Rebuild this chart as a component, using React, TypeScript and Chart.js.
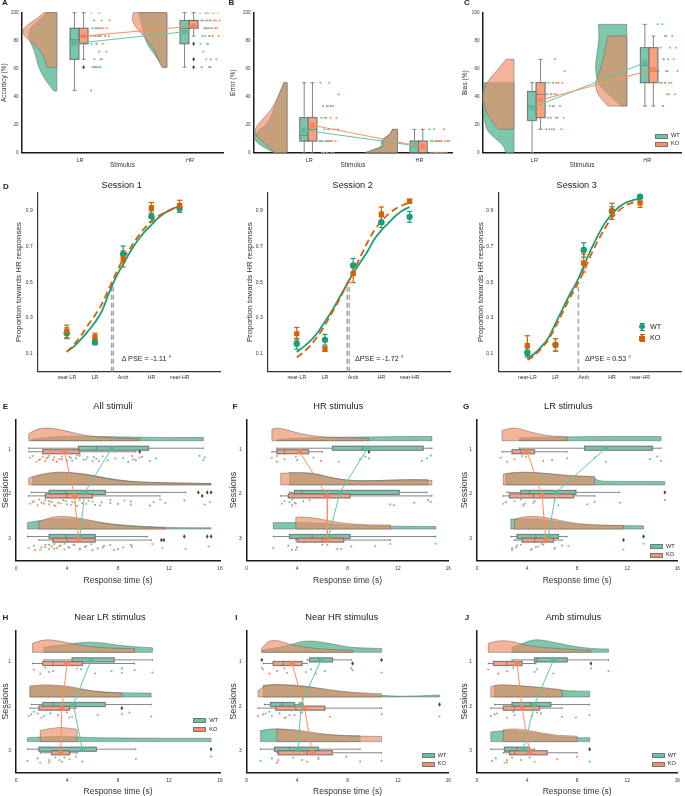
import React, { useEffect, useRef } from "react";
import { Chart, registerables } from "chart.js";

Chart.register(...registerables);
const FONT = "'Liberation Sans', Arial, Helvetica, sans-serif";
Chart.defaults.font.family = FONT;
Chart.defaults.color = "#222";

// ---------- colours ----------
const WT = "rgb(102,194,165)";
const KO = "rgb(252,141,98)";
const WT_V = "rgba(118,196,166,0.95)";
const KO_V = "rgba(236,140,100,0.65)";
const WT_BOX = "rgba(102,194,165,0.9)";
const KO_BOX = "rgba(250,145,105,0.85)";
const D_WT = "#1b9e77";
const D_KO = "#d95f02";

// ---------- Panels A-C data ----------
const stimuli = ["LR", "HR"];
const stimPos = [0, 1];

// A – accuracy (%) ; box = [whiskerLow, q1, median, q3, whiskerHigh]
const accBoxWT = [[44.4, 66.7, 80.6, 88.9, 100], [61.1, 77.8, 88.9, 94.4, 100]];
const accBoxKO = [[66.7, 77.8, 83.3, 88.9, 100], [83.3, 88.9, 94.4, 94.4, 100]];
const accMeanWT = [78.0, 86.4];
const accMeanKO = [83.3, 90.4];
const accOutWT = [[], []];
const accOutKO = [[61.1], [77.8, 66.7, 61.1]];
const accDotsWT = [
  [100, 100, 94.4, 94.4, 88.9, 88.9, 88.9, 88.9, 83.3, 83.3, 83.3, 83.3, 77.8, 77.8, 72.2, 66.7, 66.7, 61.1, 61.1, 61.1, 61.1, 44.4],
  [100, 100, 100, 94.4, 94.4, 94.4, 94.4, 88.9, 88.9, 88.9, 88.9, 83.3, 83.3, 83.3, 77.8, 77.8, 72.2, 66.7, 66.7, 61.1, 61.1],
];
const accDotsKO = [
  [100, 94.4, 88.9, 88.9, 88.9, 88.9, 83.3, 83.3, 83.3, 83.3, 77.8, 77.8, 72.2, 66.7, 61.1],
  [100, 100, 100, 100, 100, 94.4, 94.4, 94.4, 94.4, 94.4, 88.9, 88.9, 88.9, 88.9, 83.3, 83.3, 83.3, 77.8, 66.7, 61.1],
];
const accViolinWT = [
  [[44, 0.08], [47, 0.18], [51, 0.3], [55, 0.4], [59, 0.48], [63, 0.54], [67, 0.58], [71, 0.62], [75, 0.68], [79, 0.75], [83, 0.8], [87, 0.8], [91, 0.68], [95, 0.48], [100, 0.3]],
  [[61, 0.12], [65, 0.22], [70, 0.34], [75, 0.5], [80, 0.6], [85, 0.66], [90, 0.7], [95, 0.75], [100, 0.8]],
];
const accViolinKO = [
  [[61, 0.29], [64, 0.31], [68, 0.36], [72, 0.45], [76, 0.58], [80, 0.78], [84, 0.95], [88, 0.98], [92, 0.8], [96, 0.55], [100, 0.38]],
  [[61, 0.14], [65, 0.22], [70, 0.3], [75, 0.4], [80, 0.55], [85, 0.72], [90, 0.9], [95, 1.0], [100, 0.95]],
];

// B – error (%)
const errBoxWT = [[0, 8.3, 12.5, 25, 50], [0, 0, 0, 8.3, 16.7]];
const errBoxKO = [[0, 8.3, 16.7, 25, 50], [0, 0, 0, 8.3, 16.7]];
const errMeanWT = [16.1, 5.1];
const errMeanKO = [19.6, 4.2];
const errOutWT = [[], []];
const errOutKO = [[], []];
const errDotsWT = [
  [50, 33.3, 33.3, 33.3, 25, 25, 16.7, 16.7, 8.3, 8.3, 8.3, 8.3, 8.3, 8.3, 8.3, 0, 0, 0, 0],
  [16.7, 16.7, 8.3, 8.3, 8.3, 8.3, 8.3, 0, 0, 0, 0, 0, 0, 0, 0],
];
const errDotsKO = [
  [50, 41.7, 33.3, 33.3, 25, 25, 25, 16.7, 16.7, 16.7, 8.3, 8.3, 8.3, 8.3, 0, 0, 0],
  [16.7, 8.3, 8.3, 8.3, 8.3, 8.3, 8.3, 8.3, 0, 0, 0, 0, 0, 0],
];
const errViolinWT = [
  [[0, 0.4], [3, 0.62], [6, 0.85], [9, 0.97], [12, 1.0], [15, 0.9], [18, 0.75], [21, 0.6], [25, 0.5], [30, 0.42], [35, 0.35], [40, 0.27], [45, 0.18], [50, 0.1]],
  [[0, 0.95], [2, 0.75], [4, 0.52], [6, 0.47], [8, 0.5], [10, 0.42], [12, 0.3], [14, 0.2], [16.7, 0.15]],
];
const errViolinKO = [
  [[0, 0.38], [3, 0.5], [6, 0.65], [9, 0.8], [12, 0.92], [15, 0.97], [18, 0.95], [21, 0.85], [25, 0.7], [30, 0.5], [35, 0.38], [40, 0.28], [45, 0.18], [50, 0.1]],
  [[0, 1.0], [2, 0.72], [4, 0.42], [6, 0.4], [8, 0.48], [10, 0.42], [12, 0.3], [14, 0.2], [16.7, 0.15]],
];

// C – bias (%)
const biasBoxWT = [[0, 23, 33.3, 43.7, 50], [33.3, 50, 62.5, 75, 91.7]];
const biasBoxKO = [[16.7, 25, 41.7, 50, 66.7], [33.3, 50, 58.3, 75, 83.3]];
const biasMeanWT = [32.1, 64.3];
const biasMeanKO = [37.6, 59.5];
const biasOutWT = [[], []];
const biasOutKO = [[], []];
const biasDotsWT = [
  [50, 50, 50, 50, 41.7, 41.7, 41.7, 33.3, 33.3, 33.3, 25, 25, 25, 16.7, 16.7, 16.7],
  [91.7, 91.7, 83.3, 75, 66.7, 66.7, 58.3, 58.3, 50, 50, 50, 50, 41.7, 33.3],
];
const biasDotsKO = [
  [66.7, 58.3, 50, 50, 50, 41.7, 41.7, 33.3, 33.3, 25, 25, 16.7, 16.7],
  [83.3, 83.3, 75, 75, 66.7, 66.7, 58.3, 58.3, 50, 50, 41.7, 41.7, 33.3],
];
const biasViolinWT = [
  [[0, 0.26], [4, 0.3], [8, 0.47], [12, 0.7], [16.7, 0.88], [25, 0.95], [33, 0.98], [42, 1.0], [50, 0.95]],
  [[33.3, 0.18], [37, 0.35], [41, 0.55], [45, 0.75], [50, 0.9], [55, 0.97], [62, 1.0], [70, 0.95], [78, 0.9], [85, 0.88], [91.7, 0.9]],
];
const biasViolinKO = [
  [[16.7, 0.5], [25, 0.8], [33, 0.95], [42, 1.0], [50, 0.88], [58, 0.57], [66.7, 0.25]],
  [[33.3, 0.6], [37, 0.75], [41, 0.9], [45, 0.97], [50, 1.0], [55, 0.92], [62, 0.8], [70, 0.72], [78, 0.65], [83.3, 0.6]],
];

// ---------- Panel D data ----------
const dLevels = ["near-LR", "LR", "Amb", "HR", "near-HR"];
const dPos = [0, 1, 2, 3, 4];
const curveX = [0, 0.25, 0.5, 0.75, 1, 1.25, 1.5, 1.75, 2, 2.25, 2.5, 2.75, 3, 3.25, 3.5, 3.75, 4];
const s1CurveWT = [0.113, 0.14, 0.18, 0.225, 0.275, 0.34, 0.44, 0.53, 0.6, 0.67, 0.73, 0.78, 0.82, 0.86, 0.89, 0.91, 0.925];
const s1CurveKO = [0.11, 0.15, 0.2, 0.26, 0.315, 0.38, 0.465, 0.55, 0.63, 0.69, 0.75, 0.8, 0.84, 0.87, 0.89, 0.91, 0.925];
const s2CurveWT = [0.11, 0.14, 0.175, 0.22, 0.28, 0.34, 0.41, 0.48, 0.55, 0.61, 0.67, 0.74, 0.79, 0.83, 0.87, 0.9, 0.92];
const s2CurveKO = [0.08, 0.11, 0.15, 0.2, 0.26, 0.33, 0.4, 0.48, 0.56, 0.64, 0.72, 0.79, 0.84, 0.88, 0.91, 0.93, 0.945];
const s3CurveWT = [0.075, 0.1, 0.14, 0.19, 0.27, 0.35, 0.43, 0.5, 0.59, 0.68, 0.76, 0.83, 0.88, 0.92, 0.945, 0.958, 0.967];
const s3CurveKO = [0.065, 0.09, 0.13, 0.18, 0.25, 0.33, 0.41, 0.48, 0.56, 0.65, 0.73, 0.8, 0.86, 0.9, 0.93, 0.945, 0.952];
const s1WT = [0.215, 0.165, 0.657, 0.868, 0.915];
const s1WTErr = [0.03, 0.015, 0.045, 0.03, 0.025];
const s1KO = [0.225, 0.195, 0.63, 0.915, 0.928];
const s1KOErr = [0.035, 0.02, 0.045, 0.03, 0.03];
const s2WT = [0.156, 0.178, 0.593, 0.835, 0.865];
const s2WTErr = [0.03, 0.03, 0.04, 0.03, 0.03];
const s2KO = [0.212, 0.126, 0.548, 0.88, 0.952];
const s2KOErr = [0.035, 0.012, 0.05, 0.04, 0.012];
const s3WT = [0.107, 0.15, 0.68, 0.896, 0.977];
const s3WTErr = [0.025, 0.035, 0.04, 0.025, 0.01];
const s3KO = [0.146, 0.15, 0.607, 0.896, 0.943];
const s3KOErr = [0.055, 0.035, 0.05, 0.045, 0.025];
const s1PSE = [1.59, 1.65];
const s2PSE = [1.79, 1.865];
const s3PSE = [1.81];

// ---------- Panels E-J data (response time, s) ----------
const sessions = [1, 2, 3];

const E_WT_violin = [
  [[1.2, 0.1], [2, 0.2], [3, 0.3], [4, 0.35], [5, 0.36], [6, 0.34], [8, 0.3], [10, 0.27], [12, 0.25], [14, 0.25], [14.7, 0.25]],
  [[1.3, 0.6], [2, 0.8], [3, 0.95], [4, 0.97], [5, 0.9], [6, 0.75], [7, 0.55], [8, 0.4], [9, 0.28], [10, 0.22], [12, 0.16], [14, 0.12], [15.3, 0.1]],
  [[0.9, 0.5], [1.5, 0.6], [2, 0.7], [3, 0.8], [4, 0.82], [5, 0.75], [6, 0.6], [7, 0.45], [8, 0.35], [10, 0.2], [12, 0.12], [14, 0.1], [15.3, 0.1]],
];
const E_KO_violin = [
  [[1, 0.55], [1.5, 0.85], [2, 0.97], [2.5, 1.0], [3, 0.95], [4, 0.75], [5, 0.5], [6, 0.33], [7, 0.25], [8, 0.2], [9, 0.17], [9.7, 0.15]],
  [[1, 0.55], [2, 0.85], [3, 0.98], [3.5, 1.0], [4, 0.98], [5, 0.88], [6, 0.7], [7, 0.5], [8, 0.35], [9, 0.25], [10, 0.2], [12, 0.15], [14, 0.12], [15.3, 0.1]],
  [[1.8, 0.55], [2.5, 0.85], [3, 0.95], [3.5, 1.0], [4, 0.98], [5, 0.85], [6, 0.65], [7, 0.45], [8, 0.3], [9, 0.2], [10, 0.15], [11.7, 0.12]],
];
const E_WT_box = [[1.0, 4.9, 6.3, 10.4, 14.7], [1.2, 2.6, 3.9, 7.0, 13.3], [0.9, 2.6, 3.9, 6.2, 10.3]];
const E_KO_box = [[1.0, 2.1, 3.8, 5.0, 9.4], [1.0, 2.3, 4.0, 6.0, 11.3], [1.8, 2.9, 4.0, 6.2, 10.6]];
const E_WT_mean = [7.5, 5.4, 5.0];
const E_KO_mean = [3.8, 4.6, 4.9];
const E_WT_out = [[], [14.3, 15.0, 15.3], [13.2, 15.0, 15.3]];
const E_KO_out = [[9.7], [14.6], [11.4, 11.6]];
const E_WT_dots = [
  [1.3, 1.8, 2.5, 3.2, 3.6, 4.2, 4.4, 4.7, 5.0, 5.3, 5.6, 6.0, 6.3, 6.8, 7.2, 8.4, 8.8, 9.2, 9.9, 10.5, 11.0, 14.4, 14.7, 14.8],
  [1.3, 1.8, 2.2, 2.6, 3.0, 3.3, 3.7, 4.0, 4.4, 4.8, 5.2, 5.7, 6.2, 6.7, 7.4, 8.0, 9.0, 10.5, 11.7, 13.2, 14.8, 15.2],
  [1.0, 1.4, 1.9, 2.3, 2.6, 3.0, 3.4, 3.8, 4.2, 4.6, 5.0, 5.4, 5.9, 6.4, 6.9, 7.7, 8.4, 9.0, 13.3, 15.1],
];
const E_KO_dots = [
  [1.1, 1.6, 1.9, 2.1, 2.3, 2.4, 2.6, 2.9, 3.0, 3.2, 3.4, 3.6, 4.0, 4.3, 4.8, 5.5, 6.1, 6.5, 7.8, 9.1, 9.4, 9.7],
  [1.1, 1.4, 1.7, 2.0, 2.3, 2.6, 2.8, 3.1, 3.5, 3.9, 4.3, 4.6, 5.0, 5.5, 6.0, 6.6, 7.4, 8.5, 9.0, 10.8, 11.3],
  [1.5, 2.0, 2.3, 2.6, 2.8, 3.0, 3.2, 3.5, 3.8, 4.1, 4.5, 5.0, 5.5, 6.0, 6.8, 7.4, 8.0, 9.1, 10.7, 11.5],
];

const F_WT_violin = [
  [[2.4, 0.1], [4, 0.2], [6, 0.25], [8, 0.28], [10, 0.3], [12, 0.32], [14, 0.33], [14.7, 0.33]],
  [[3.4, 0.95], [4.5, 0.95], [5.5, 0.88], [6.5, 0.6], [7.5, 0.42], [8.5, 0.32], [10, 0.32], [12, 0.4], [13.5, 0.42], [14.4, 0.4]],
  [[2.1, 0.5], [3, 0.5], [3.9, 0.52], [5, 0.5], [6, 0.45], [7, 0.38], [8, 0.3], [10, 0.25], [12, 0.22], [14, 0.2], [15, 0.2]],
];
const F_KO_violin = [
  [[2, 0.9], [2.3, 1.0], [2.8, 0.95], [3.5, 0.75], [4.5, 0.5], [5.5, 0.35], [6.5, 0.28], [8, 0.22], [9.7, 0.2]],
  [[2.7, 0.9], [3.5, 0.95], [4.5, 0.95], [5.5, 0.85], [6.5, 0.6], [7.5, 0.42], [8.5, 0.32], [10, 0.32], [12, 0.38], [13.5, 0.38], [14.7, 0.35]],
  [[3.9, 0.93], [4.5, 0.95], [5.5, 0.85], [6.5, 0.65], [7.5, 0.48], [8.5, 0.38], [9.5, 0.33], [10.5, 0.32], [11.4, 0.32]],
];
const F_WT_box = [[2.4, 6.8, 9.2, 14.0, 14.7], [3.4, 3.8, 4.4, 12.1, 14.3], [2.1, 3.4, 5.2, 8.2, 15.0]];
const F_KO_box = [[2.0, 2.4, 3.0, 4.9, 6.0], [2.7, 3.3, 6.2, 8.2, 14.7], [3.9, 4.0, 6.0, 7.7, 11.4]];
const F_WT_mean = [9.6, 7.4, 6.5];
const F_KO_mean = [4.2, 6.4, 6.4];
const F_WT_out = [[], [], []];
const F_KO_out = [[9.7], [], []];
const F_WT_dots = [[2.4, 4.0, 5.3, 7.3, 9.0, 9.4, 13.9, 14.3, 14.6], [3.4, 3.6, 3.9, 4.5, 11.7, 13.3, 14.4], [2.1, 3.3, 3.6, 4.0, 6.4, 7.2, 10.2, 15.0]];
const F_KO_dots = [[2.0, 2.4, 3.0, 3.9, 5.9, 9.7], [2.8, 3.0, 3.6, 3.8, 5.0, 11.4, 14.6], [3.9, 4.0, 6.0, 7.5, 8.3, 11.4]];

const G_WT_violin = [
  [[3.4, 0.22], [5, 0.26], [7, 0.3], [9, 0.32], [11, 0.33], [13, 0.33], [14.7, 0.33]],
  [[2.3, 0.85], [2.8, 0.93], [3.5, 0.98], [4.5, 0.96], [5.5, 0.88], [6.5, 0.78], [7.5, 0.7], [8.5, 0.66], [9.4, 0.62], [9.6, 0.3], [11, 0.27], [13, 0.26], [15, 0.26]],
  [[2.7, 0.78], [3.5, 0.8], [4.5, 0.8], [5.5, 0.7], [6.5, 0.55], [7.5, 0.42], [8.5, 0.33], [10, 0.28], [11.7, 0.26], [13.3, 0.26]],
];
const G_KO_violin = [
  [[2, 0.8], [2.5, 0.95], [3, 1.0], [3.5, 0.92], [4, 0.75], [5, 0.5], [6, 0.35], [7.2, 0.3]],
  [[2.1, 0.85], [2.8, 0.95], [3.5, 1.0], [4.5, 0.97], [5.5, 0.9], [6.5, 0.8], [7.5, 0.72], [8.5, 0.68], [9.4, 0.65]],
  [[3.0, 0.75], [3.5, 0.95], [4.5, 1.0], [5.5, 0.9], [6.5, 0.7], [7.5, 0.5], [8.5, 0.38], [10, 0.3], [11.7, 0.28]],
];
const G_WT_box = [[3.4, 8.6, 10.3, 14.0, 14.7], [2.4, 3.5, 4.2, 7.9, 11.4], [2.7, 3.2, 4.7, 6.5, 7.2]];
const G_KO_box = [[2.0, 2.8, 3.5, 4.6, 7.2], [2.1, 2.6, 4.5, 7.7, 9.4], [3.0, 3.6, 4.6, 6.1, 6.8]];
const G_WT_mean = [10.3, 6.3, 5.7];
const G_KO_mean = [4.0, 5.2, 5.5];
const G_WT_out = [[], [15.0], [13.3]];
const G_KO_out = [[], [], [11.7]];
const G_WT_dots = [[3.6, 6.0, 9.4, 10.3, 13.8, 14.4, 14.7], [2.3, 3.5, 3.8, 4.6, 6.5, 11.4, 15.0], [2.8, 3.2, 4.3, 4.7, 5.3, 6.2, 7.3, 13.3]];
const G_KO_dots = [[1.9, 2.4, 3.0, 3.9, 5.3, 7.2], [2.1, 3.0, 3.7, 4.5, 6.2, 8.8, 9.4], [2.8, 3.1, 3.5, 4.4, 4.9, 5.2, 6.2, 6.8, 11.7]];

const H_WT_violin = [
  [[2.2, 0.4], [3, 0.5], [4, 0.6], [5, 0.75], [6, 0.8], [7, 0.7], [8, 0.55], [9, 0.45], [10.7, 0.35]],
  [[1.1, 0.8], [2, 0.85], [3, 0.85], [4, 0.75], [5, 0.6], [6, 0.45], [7, 0.38], [8.3, 0.32], [10.6, 0.3]],
  [[0.9, 0.3], [1.9, 0.36], [2.8, 0.4], [3.8, 0.4], [4.8, 0.36], [6, 0.3], [8, 0.28], [10, 0.27], [12, 0.26], [15.3, 0.26]],
];
const H_KO_violin = [
  [[1.3, 0.7], [2, 0.98], [3, 0.95], [4, 0.75], [5, 0.55], [6, 0.42], [7, 0.35], [8, 0.3], [9.3, 0.28]],
  [[1.1, 0.85], [2, 0.95], [3, 0.92], [4, 0.85], [5, 0.65], [6, 0.45], [7, 0.35], [8.3, 0.3]],
  [[1.9, 0.85], [2.5, 0.98], [3, 1.05], [3.5, 1.1], [4, 1.05], [4.8, 0.95]],
];
const H_WT_box = [[2.2, 4.4, 6.0, 7.7, 10.7], [1.2, 2.1, 2.9, 7.0, 10.6], [0.9, 1.8, 3.5, 6.3, 9.4]];
const H_KO_box = [[1.3, 2.1, 2.9, 5.2, 9.3], [1.1, 1.8, 3.5, 4.2, 4.7], [1.9, 2.8, 3.5, 4.2, 4.8]];
const H_WT_mean = [5.9, 4.5, 5.2];
const H_KO_mean = [4.0, 3.6, 3.5];
const H_WT_out = [[], [], [15.3]];
const H_KO_out = [[], [8.3], []];
const H_WT_dots = [[2.3, 2.6, 5.1, 6.2, 7.5, 8.3, 10.7], [1.2, 1.4, 2.2, 2.7, 4.2, 6.4, 8.9, 10.6], [0.9, 1.7, 2.6, 3.4, 3.8, 5.2, 9.4, 15.3]];
const H_KO_dots = [[1.4, 1.9, 2.9, 4.8, 8.3, 9.3], [1.0, 1.7, 2.0, 3.3, 4.0, 4.4, 8.3], [1.9, 2.6, 3.1, 3.6, 4.2, 4.7]];

const I_WT_violin = [
  [[1.2, 0.15], [2, 0.3], [3, 0.45], [4, 0.75], [4.5, 0.85], [5, 0.88], [5.5, 0.85], [6.5, 0.7], [7.5, 0.5], [8.5, 0.35], [10.7, 0.3]],
  [[1.3, 0.9], [2, 0.95], [3, 0.95], [4, 0.9], [5, 0.8], [6, 0.6], [7, 0.45], [8, 0.35], [9, 0.25], [10.7, 0.12], [12, 0.05], [13.5, 0.08], [15.3, 0.15]],
  [[1.1, 0.85], [1.6, 0.95], [2.4, 1.0], [3, 0.95], [4, 0.8], [5, 0.65], [6, 0.55], [7, 0.5], [8, 0.45], [9, 0.45]],
];
const I_KO_violin = [
  [[1.2, 0.3], [1.6, 0.8], [2, 0.92], [2.5, 0.9], [3, 0.75], [3.5, 0.6], [4, 0.5], [5, 0.35], [6, 0.25], [7, 0.2], [8.4, 0.15]],
  [[0.9, 0.5], [1.5, 0.9], [2, 0.95], [3, 0.92], [4, 0.85], [5, 0.75], [6, 0.65], [7, 0.5], [8, 0.4], [9, 0.32], [10.7, 0.25]],
  [[2.4, 0.95], [3, 0.97], [4, 0.9], [5, 0.75], [6, 0.6], [7, 0.5], [8, 0.45], [9, 0.42], [10.7, 0.4]],
];
const I_WT_box = [[4.8, 5.0, 5.7, 6.8, 8.3], [1.4, 1.9, 2.8, 3.8, 4.5], [1.1, 2.2, 3.4, 5.7, 9.0]];
const I_KO_box = [[1.3, 2.1, 2.9, 4.4, 4.8], [0.9, 2.3, 3.9, 6.2, 10.7], [2.4, 2.5, 4.8, 6.8, 10.7]];
const I_WT_mean = [5.9, 4.3, 4.1];
const I_KO_mean = [3.6, 4.6, 5.2];
const I_WT_out = [[1.2, 10.7], [15.3], []];
const I_KO_out = [[8.4], [], []];
const I_WT_dots = [[1.2, 4.7, 5.1, 5.5, 6.2, 8.3, 10.7], [1.3, 1.8, 2.0, 2.6, 3.1, 3.4, 4.4, 15.3], [1.1, 2.0, 2.4, 4.4, 5.7, 9.0]];
const I_KO_dots = [[1.3, 1.8, 2.4, 3.0, 3.2, 8.4], [0.9, 1.5, 3.0, 3.8, 4.3, 6.6, 10.7], [2.4, 2.5, 3.7, 4.8, 5.7, 7.9, 10.7]];

const J_WT_violin = [
  [[2.8, 0.4], [3.5, 0.6], [4, 0.85], [4.7, 1.0], [5.5, 0.9], [6.5, 0.7], [7.5, 0.5], [8.5, 0.35], [9.5, 0.28], [10.5, 0.25]],
  [[1.4, 0.85], [2, 0.9], [3, 0.85], [4, 0.8], [5, 0.72], [6, 0.6], [6.8, 0.5], [8, 0.45], [9, 0.45]],
  [[1.1, 0.75], [2.1, 0.85], [3, 0.85], [4, 0.75], [5, 0.6], [6, 0.45], [7, 0.35], [8, 0.3], [9, 0.3]],
];
const J_KO_violin = [
  [[0.9, 0.7], [1.5, 0.85], [2.2, 0.92], [3, 0.8], [3.5, 0.65], [4.5, 0.45], [5.5, 0.35], [6.5, 0.3], [7.5, 0.22], [9.1, 0.15]],
  [[1.1, 0.8], [1.5, 0.92], [2, 0.95], [3, 0.9], [4, 0.82], [5, 0.75], [6, 0.65], [6.8, 0.55]],
  [[2.1, 0.92], [2.7, 1.0], [3.5, 0.95], [4.5, 0.8], [5.5, 0.6], [6.5, 0.48], [8, 0.42]],
];
const J_WT_box = [[2.8, 4.6, 4.8, 7.2, 10.5], [1.4, 2.8, 4.3, 5.9, 9.0], [1.1, 2.2, 3.2, 4.2, 4.6]];
const J_KO_box = [[0.9, 1.3, 2.4, 3.6, 4.7], [1.1, 2.1, 3.0, 5.0, 6.8], [2.1, 2.6, 3.0, 5.6, 8.0]];
const J_WT_mean = [6.1, 4.6, 3.7];
const J_KO_mean = [3.2, 3.6, 4.2];
const J_WT_out = [[], [], [9.0]];
const J_KO_out = [[9.1], [], []];
const J_WT_dots = [[2.9, 4.6, 4.8, 6.1, 10.5], [1.4, 2.9, 4.4, 5.1, 7.9, 9.0], [1.2, 1.5, 2.4, 3.5, 4.2, 9.0]];
const J_KO_dots = [[0.9, 1.7, 2.4, 9.1], [1.1, 1.6, 2.4, 3.0, 4.8, 6.8], [2.2, 2.4, 2.8, 4.6, 6.4, 8.0]];

const rtTicks = [0, 4, 8, 12, 16];

// ---------- helpers ----------
type V = number[][];
interface Grp { violin: V; box: number[]; mean: number; dots: number[]; out: number[]; }
function groups(v: V[], b: number[][], m: number[], d: number[][], o: number[][]): Grp[] {
  return b.map((box, i) => ({ violin: v[i], box, mean: m[i], dots: d[i], out: o[i] }));
}
interface RainSpec {
  orient: "v" | "h"; pos: number[]; wt: Grp[]; ko: Grp[];
  vBase: number; vSize: number; cWT: number; cKO: number; hw: number;
  jWT: number[]; jKO: number[];
}

function mapper(chart: any, orient: string) {
  const xs = chart.scales.x, ys = chart.scales.y;
  return orient === "v"
    ? (c: number, v: number) => [xs.getPixelForValue(c), ys.getPixelForValue(v)]
    : (c: number, v: number) => [xs.getPixelForValue(v), ys.getPixelForValue(c)];
}

function smooth(ctx: CanvasRenderingContext2D, pts: number[][]) {
  ctx.moveTo(pts[0][0], pts[0][1]);
  for (let i = 1; i < pts.length - 1; i++) {
    const mx = (pts[i][0] + pts[i + 1][0]) / 2, my = (pts[i][1] + pts[i + 1][1]) / 2;
    ctx.quadraticCurveTo(pts[i][0], pts[i][1], mx, my);
  }
  ctx.lineTo(pts[pts.length - 1][0], pts[pts.length - 1][1]);
}

function drawViolin(ctx: CanvasRenderingContext2D, P: any, pos: number, s: RainSpec, v: V, fill: string) {
  const pts = v.map(([val, d]) => P(pos + s.vBase - d * s.vSize, val));
  ctx.beginPath();
  smooth(ctx, pts);
  const a = P(pos + s.vBase, v[v.length - 1][0]);
  const b = P(pos + s.vBase, v[0][0]);
  ctx.lineTo(a[0], a[1]);
  ctx.lineTo(b[0], b[1]);
  ctx.closePath();
  ctx.fillStyle = fill;
  ctx.fill();
  ctx.strokeStyle = "rgba(95,95,95,0.6)";
  ctx.lineWidth = 0.8;
  ctx.stroke();
}

function seg(ctx: CanvasRenderingContext2D, a: number[], b: number[]) {
  ctx.beginPath(); ctx.moveTo(a[0], a[1]); ctx.lineTo(b[0], b[1]); ctx.stroke();
}

function drawBox(ctx: CanvasRenderingContext2D, P: any, pos: number, c: number, hw: number, g: Grp, fill: string) {
  const [lo, q1, med, q3, hi] = g.box;
  const cc = pos + c;
  ctx.strokeStyle = "rgba(105,105,105,0.9)";
  ctx.lineWidth = 0.9;
  seg(ctx, P(cc, lo), P(cc, q1));
  seg(ctx, P(cc, q3), P(cc, hi));
  seg(ctx, P(cc - hw * 0.45, lo), P(cc + hw * 0.45, lo));
  seg(ctx, P(cc - hw * 0.45, hi), P(cc + hw * 0.45, hi));
  const a = P(cc - hw, q1), b = P(cc + hw, q3);
  const x = Math.min(a[0], b[0]), y = Math.min(a[1], b[1]);
  const w = Math.abs(a[0] - b[0]), h = Math.abs(a[1] - b[1]);
  ctx.fillStyle = fill;
  ctx.fillRect(x, y, w, h);
  ctx.strokeStyle = "rgba(150,150,150,0.55)";
  ctx.lineWidth = 1.6;
  ctx.strokeRect(x, y, w, h);
  ctx.strokeStyle = "rgba(95,95,95,0.9)";
  ctx.lineWidth = 0.7;
  ctx.strokeRect(x, y, w, h);
  seg(ctx, P(cc - hw, med), P(cc + hw, med));
  ctx.fillStyle = "rgb(70,70,70)";
  g.out.forEach((v) => {
    const p = P(cc, v);
    ctx.beginPath();
    ctx.moveTo(p[0], p[1] - 2.2); ctx.lineTo(p[0] + 1.4, p[1]); ctx.lineTo(p[0], p[1] + 2.2); ctx.lineTo(p[0] - 1.4, p[1]);
    ctx.closePath(); ctx.fill();
  });
}

function rainPlugin(s: RainSpec) {
  return {
    id: "rain",
    beforeDatasetsDraw(chart: any) {
      const ctx = chart.ctx as CanvasRenderingContext2D;
      const P = mapper(chart, s.orient);
      ctx.save();
      s.pos.forEach((p, i) => {
        drawViolin(ctx, P, p, s, s.wt[i].violin, WT_V);
        drawViolin(ctx, P, p, s, s.ko[i].violin, KO_V);
      });
      s.pos.forEach((p, i) => {
        drawBox(ctx, P, p, s.cWT, s.hw, s.wt[i], WT_BOX);
        drawBox(ctx, P, p, s.cKO, s.hw, s.ko[i], KO_BOX);
      });
      ctx.restore();
    },
  };
}

function pt(s: RainSpec, c: number, v: number) {
  return s.orient === "v" ? { x: c, y: v } : { x: v, y: c };
}

function rainDatasets(s: RainSpec) {
  const meanDS = (g: Grp[], c: number, col: string, fill: string) => ({
    data: s.pos.map((p, i) => pt(s, p + c, g[i].mean)),
    showLine: true, borderColor: col, borderWidth: 1, pointRadius: 2.7,
    pointBackgroundColor: fill, pointBorderWidth: 0,
  });
  const dotsDS = (g: Grp[], r: number[], col: string, seed: number) => {
    const data: any[] = [];
    g.forEach((gr, i) => gr.dots.forEach((v, k) => {
      const f = (k * 0.618034 + seed + i * 0.29) % 1;
      data.push(pt(s, s.pos[i] + r[0] + (r[1] - r[0]) * f, v));
    }));
    return { data, showLine: false, pointRadius: 1.05, pointBackgroundColor: col, pointBorderWidth: 0 };
  };
  return [
    meanDS(s.ko, s.cKO, KO, "rgba(245,130,90,0.9)"),
    meanDS(s.wt, s.cWT, WT, "rgba(90,185,150,0.9)"),
    dotsDS(s.ko, s.jKO, KO, 0.37),
    dotsDS(s.wt, s.jWT, WT, 0.11),
  ];
}

function mkScale(p: any) {
  return {
    type: "linear",
    min: p.min, max: p.max, reverse: !!p.reverse,
    afterBuildTicks: (sc: any) => { sc.ticks = p.ticks.map((v: number) => ({ value: v })); },
    afterFit: (sc: any) => { if (p.w !== undefined) sc.width = p.w; if (p.h !== undefined) sc.height = p.h; },
    grid: { display: false, drawTicks: false },
    border: { display: true, color: p.bc || "#1a1a1a", width: p.bw || 1.5 },
    ticks: { font: { size: p.ts }, padding: p.tp, color: "#333", autoSkip: false, maxRotation: 0, callback: p.lab || ((v: number) => String(v)) },
    title: p.title ? { display: true, text: p.title, font: { size: p.tfs }, color: "#333", padding: p.tpad } : { display: false },
  };
}

function baseOptions(scales: any, pad: any) {
  return {
    responsive: false, animation: false, events: [],
    layout: { padding: pad },
    plugins: { legend: { display: false }, tooltip: { enabled: false } },
    scales,
  };
}

function vRain(wt: Grp[], ko: Grp[], g: any) {
  const s: RainSpec = {
    orient: "v", pos: stimPos, wt, ko, vBase: g.vBase, vSize: g.vSize,
    cWT: g.cWT, cKO: g.cKO, hw: 0.04, jWT: [0.09, 0.2], jKO: [0.13, 0.27],
  };
  return () => ({
    type: "scatter",
    data: { datasets: rainDatasets(s) },
    options: baseOptions({
      x: mkScale({ min: g.xmin, max: g.xmax, ticks: stimPos, lab: (v: number) => stimuli[v], ts: 5.5, tp: 4, title: "Stimulus", tfs: 6.5, tpad: { top: 0, bottom: 5.7 }, h: g.xh }),
      y: mkScale({ min: 0, max: 100, ticks: [0, 20, 40, 60, 80, 100], ts: 4.6, tp: 3.5, title: g.yTitle, tfs: 6.5, tpad: { top: g.ytp, bottom: 0 }, w: g.yw }),
    }, { top: 12.7, right: g.pr, bottom: 0, left: 0 }),
    plugins: [rainPlugin(s)],
  });
}

function hRain(wt: Grp[], ko: Grp[], g: any) {
  const s: RainSpec = {
    orient: "h", pos: sessions, wt, ko, vBase: -0.21, vSize: 0.29,
    cWT: -0.04, cKO: 0.04, hw: 0.045, jWT: [0.12, 0.27], jKO: [0.12, 0.27],
  };
  return () => ({
    type: "scatter",
    data: { datasets: rainDatasets(s) },
    options: baseOptions({
      x: mkScale({ min: 0, max: 16, ticks: rtTicks, ts: 4.8, tp: 5, title: "Response time (s)", tfs: 8.5, tpad: { top: 0, bottom: g.xtp }, h: g.xh }),
      y: mkScale({ min: g.ymin, max: g.ymax, reverse: true, ticks: sessions, ts: 4.8, tp: 5, title: "Sessions", tfs: 9, tpad: { top: g.ytp, bottom: 0 }, w: g.yw }),
    }, { top: g.pt, right: g.pr, bottom: 0, left: 0 }),
    plugins: [rainPlugin(s)],
  });
}

function errPlugin(sets: any[]) {
  return {
    id: "err",
    beforeDatasetsDraw(chart: any) {
      const ctx = chart.ctx as CanvasRenderingContext2D;
      const xs = chart.scales.x, ys = chart.scales.y;
      ctx.save();
      sets.forEach((st) => {
        ctx.strokeStyle = st.color;
        ctx.lineWidth = 1.2;
        dPos.forEach((p, i) => {
          const x = xs.getPixelForValue(p);
          const y1 = ys.getPixelForValue(st.y[i] - st.e[i]);
          const y2 = ys.getPixelForValue(st.y[i] + st.e[i]);
          seg(ctx, [x, y1], [x, y2]);
          seg(ctx, [x - 2.6, y1], [x + 2.6, y1]);
          seg(ctx, [x - 2.6, y2], [x + 2.6, y2]);
        });
      });
      ctx.restore();
    },
  };
}

function psycho(cWT: number[], cKO: number[], pWT: number[], eWT: number[], pKO: number[], eKO: number[], pse: number[], g: any) {
  return () => ({
    type: "scatter",
    data: {
      datasets: [
        { data: dPos.map((p, i) => ({ x: p, y: pKO[i] })), pointStyle: "rect", pointRadius: 3.7, pointBackgroundColor: D_KO, pointBorderWidth: 0 },
        { data: dPos.map((p, i) => ({ x: p, y: pWT[i] })), pointStyle: "circle", pointRadius: 3.2, pointBackgroundColor: D_WT, pointBorderWidth: 0 },
        { data: curveX.map((x, i) => ({ x, y: cKO[i] })), showLine: true, borderColor: D_KO, borderWidth: 1.8, borderDash: [7, 4], pointRadius: 0, cubicInterpolationMode: "monotone" },
        { data: curveX.map((x, i) => ({ x, y: cWT[i] })), showLine: true, borderColor: D_WT, borderWidth: 1.8, pointRadius: 0, cubicInterpolationMode: "monotone" },
        ...pse.map((p) => ({ data: [{ x: p, y: 0 }, { x: p, y: 0.5 }], showLine: true, borderColor: "rgba(160,160,160,0.95)", borderWidth: 1.5, borderDash: [5, 3], pointRadius: 0 })),
      ],
    },
    options: baseOptions({
      x: mkScale({ min: -1.03, max: 5.45, ticks: dPos, lab: (v: number) => dLevels[v], ts: 5.2, tp: 3, h: 14.3, bw: 1.2, bc: "#333" }),
      y: mkScale({ min: 0, max: 1, ticks: [0.1, 0.3, 0.5, 0.7, 0.9], lab: (v: number) => v.toFixed(1), ts: 5, tp: 5, title: "Proportion towards HR responses", tfs: 8, tpad: { top: g.ytp, bottom: 0 }, w: g.yw, bw: 1.2, bc: "#333" }),
    }, { top: 16.7, right: g.pr, bottom: 0, left: 0 }),
    plugins: [errPlugin([{ y: pWT, e: eWT, color: D_WT }, { y: pKO, e: eKO, color: D_KO }])],
  });
}

// ---------- React ----------
function ChartCanvas({ x, y, w, h, make }: any) {
  const ref = useRef<HTMLCanvasElement>(null);
  useEffect(() => {
    const chart = new Chart(ref.current as HTMLCanvasElement, make());
    return () => chart.destroy();
  }, []);
  return <canvas ref={ref} width={w} height={h} style={{ position: "absolute", left: x, top: y, width: w, height: h }} />;
}

function Txt({ x, y, s, children, b, left }: any) {
  return (
    <div style={{ position: "absolute", left: x, top: y, transform: left ? "translate(0,-50%)" : "translate(-50%,-50%)", fontFamily: FONT, fontSize: s, fontWeight: b ? "bold" : "normal", color: "#222", whiteSpace: "nowrap", lineHeight: 1 }}>
      {children}
    </div>
  );
}

function RLegend({ x, y, dy }: any) {
  const patch = (top: number, col: string) => (
    <div style={{ position: "absolute", left: x, top, width: 13, height: 5, background: col, border: "1px solid #777", boxSizing: "border-box" }} />
  );
  return (
    <>
      {patch(y, WT)}
      <Txt x={x + 16} y={y + 2.6} s={5.6} left>WT</Txt>
      {patch(y + dy, KO)}
      <Txt x={x + 16} y={y + dy + 2.6} s={5.6} left>KO</Txt>
    </>
  );
}

function EBLegend({ x, y, col, square, label }: any) {
  return (
    <>
      <div style={{ position: "absolute", left: x - 0.6, top: y - 4, width: 1.2, height: 8, background: col }} />
      <div style={{ position: "absolute", left: x - 2.5, top: y - 4, width: 5, height: 1.2, background: col }} />
      <div style={{ position: "absolute", left: x - 2.5, top: y + 2.8, width: 5, height: 1.2, background: col }} />
      <div style={{ position: "absolute", left: x - 2.6, top: y - 2.6, width: 5.2, height: 5.2, background: col, borderRadius: square ? 0 : "50%" }} />
      <Txt x={x + 8} y={y} s={7.2} left>{label}</Txt>
    </>
  );
}

const gA = groups(accViolinWT, accBoxWT, accMeanWT, accDotsWT, accOutWT);
const gAk = groups(accViolinKO, accBoxKO, accMeanKO, accDotsKO, accOutKO);
const gB = groups(errViolinWT, errBoxWT, errMeanWT, errDotsWT, errOutWT);
const gBk = groups(errViolinKO, errBoxKO, errMeanKO, errDotsKO, errOutKO);
const gC = groups(biasViolinWT, biasBoxWT, biasMeanWT, biasDotsWT, biasOutWT);
const gCk = groups(biasViolinKO, biasBoxKO, biasMeanKO, biasDotsKO, biasOutKO);

const rowTop = { ymin: 0.305, ymax: 3.507, pt: 19.3, xh: 29.3, xtp: 3.9 };
const rowBot = { ymin: 0.306, ymax: 3.477, pt: 30.7, xh: 27.7, xtp: 3.2 };

export default function App() {
  return (
    <div style={{ position: "absolute", left: 0, top: 0, width: 685, height: 796, overflow: "hidden", background: "#fff" }}>
      {/* A-C */}
      <ChartCanvas x={0} y={0} w={230} h={175} make={vRain(gA, gAk, { xmin: -0.527, xmax: 1.3, vBase: -0.21, vSize: 0.32, cWT: -0.05, cKO: 0.033, xh: 22.3, yw: 22, ytp: 0.4, pr: 7, yTitle: "Accuracy (%)" })} />
      <ChartCanvas x={230} y={0} w={226} h={175} make={vRain(gB, gBk, { xmin: -0.5, xmax: 1.295, vBase: -0.2, vSize: 0.3, cWT: -0.045, cKO: 0.03, xh: 22.3, yw: 24, ytp: -0.3, pr: 1, yTitle: "Error (%)" })} />
      <ChartCanvas x={456} y={0} w={229} h={175} make={vRain(gC, gCk, { xmin: -0.455, xmax: 1.3, vBase: -0.18, vSize: 0.28, cWT: -0.02, cKO: 0.055, xh: 22.3, yw: 27, ytp: 5.4, pr: 1, yTitle: "Bias (%)" })} />
      <Txt x={5} y={3} s={8} b>A</Txt>
      <Txt x={231.5} y={3} s={8} b>B</Txt>
      <Txt x={467} y={3} s={8} b>C</Txt>
      <RLegend x={655} y={133.5} dy={8.3} />

      {/* D */}
      <ChartCanvas x={0} y={176} w={230} h={210} make={psycho(s1CurveWT, s1CurveKO, s1WT, s1WTErr, s1KO, s1KOErr, s1PSE, { yw: 37.7, ytp: 13.6, pr: 9.5 })} />
      <ChartCanvas x={230} y={176} w={228} h={210} make={psycho(s2CurveWT, s2CurveKO, s2WT, s2WTErr, s2KO, s2KOErr, s2PSE, { yw: 37.7, ytp: 15.3, pr: 7.5 })} />
      <ChartCanvas x={458} y={176} w={227} h={210} make={psycho(s3CurveWT, s3CurveKO, s3WT, s3WTErr, s3KO, s3KOErr, s3PSE, { yw: 40.3, ytp: 18.3, pr: 4 })} />
      <Txt x={6} y={186.5} s={8} b>D</Txt>
      <Txt x={121.7} y={186} s={9.2}>Session 1</Txt>
      <Txt x={352.7} y={186} s={9.2}>Session 2</Txt>
      <Txt x={576.7} y={186} s={9.2}>Session 3</Txt>
      <Txt x={121.7} y={359.3} s={7.2} left>Δ PSE = -1.11 °</Txt>
      <Txt x={355} y={359.3} s={7.2} left>ΔPSE = -1.72 °</Txt>
      <Txt x={585} y={359.3} s={7.2} left>ΔPSE = 0.53 °</Txt>
      <EBLegend x={642} y={326.7} col={D_WT} label="WT" />
      <EBLegend x={642} y={338.3} col={D_KO} square label="KO" />

      {/* E-G */}
      <ChartCanvas x={0} y={400} w={228} h={190} make={hRain(groups(E_WT_violin, E_WT_box, E_WT_mean, E_WT_dots, E_WT_out), groups(E_KO_violin, E_KO_box, E_KO_mean, E_KO_dots, E_KO_out), { ...rowTop, yw: 16, ytp: 0, pr: 8 })} />
      <ChartCanvas x={228} y={400} w={228} h={190} make={hRain(groups(F_WT_violin, F_WT_box, F_WT_mean, F_WT_dots, F_WT_out), groups(F_KO_violin, F_KO_box, F_KO_mean, F_KO_dots, F_KO_out), { ...rowTop, yw: 18.7, ytp: 0, pr: 5.3 })} />
      <ChartCanvas x={456} y={400} w={229} h={190} make={hRain(groups(G_WT_violin, G_WT_box, G_WT_mean, G_WT_dots, G_WT_out), groups(G_KO_violin, G_KO_box, G_KO_mean, G_KO_dots, G_KO_out), { ...rowTop, yw: 21, ytp: 3, pr: 4.3 })} />
      <Txt x={5.5} y={407} s={8} b>E</Txt>
      <Txt x={235} y={407} s={8} b>F</Txt>
      <Txt x={466} y={407} s={8} b>G</Txt>
      <Txt x={113} y={406.7} s={9.3}>All stimuli</Txt>
      <Txt x={338.3} y={406.7} s={9.3}>HR stimulus</Txt>
      <Txt x={568.3} y={406.7} s={9.3}>LR stimulus</Txt>
      <RLegend x={650} y={544.3} dy={8.4} />

      {/* H-J */}
      <ChartCanvas x={0} y={600} w={228} h={200} make={hRain(groups(H_WT_violin, H_WT_box, H_WT_mean, H_WT_dots, H_WT_out), groups(H_KO_violin, H_KO_box, H_KO_mean, H_KO_dots, H_KO_out), { ...rowBot, yw: 16, ytp: 0, pr: 8 })} />
      <ChartCanvas x={228} y={600} w={228} h={200} make={hRain(groups(I_WT_violin, I_WT_box, I_WT_mean, I_WT_dots, I_WT_out), groups(I_KO_violin, I_KO_box, I_KO_mean, I_KO_dots, I_KO_out), { ...rowBot, yw: 18.7, ytp: 0, pr: 5.3 })} />
      <ChartCanvas x={456} y={600} w={229} h={200} make={hRain(groups(J_WT_violin, J_WT_box, J_WT_mean, J_WT_dots, J_WT_out), groups(J_KO_violin, J_KO_box, J_KO_mean, J_KO_dots, J_KO_out), { ...rowBot, yw: 21, ytp: 3, pr: 4.3 })} />
      <Txt x={5.5} y={618.3} s={8} b>H</Txt>
      <Txt x={236.3} y={618.3} s={8} b>I</Txt>
      <Txt x={467} y={618.3} s={8} b>J</Txt>
      <Txt x={110} y={618.3} s={9.3}>Near LR stimulus</Txt>
      <Txt x={341.7} y={618.3} s={9.3}>Near HR stimulus</Txt>
      <Txt x={573.3} y={618.3} s={9.3}>Amb stimulus</Txt>
      <RLegend x={193.3} y={718.3} dy={9} />
      <RLegend x={421.7} y={753.3} dy={8.4} />
      <RLegend x={651.7} y={753.3} dy={8.4} />
    </div>
  );
}
